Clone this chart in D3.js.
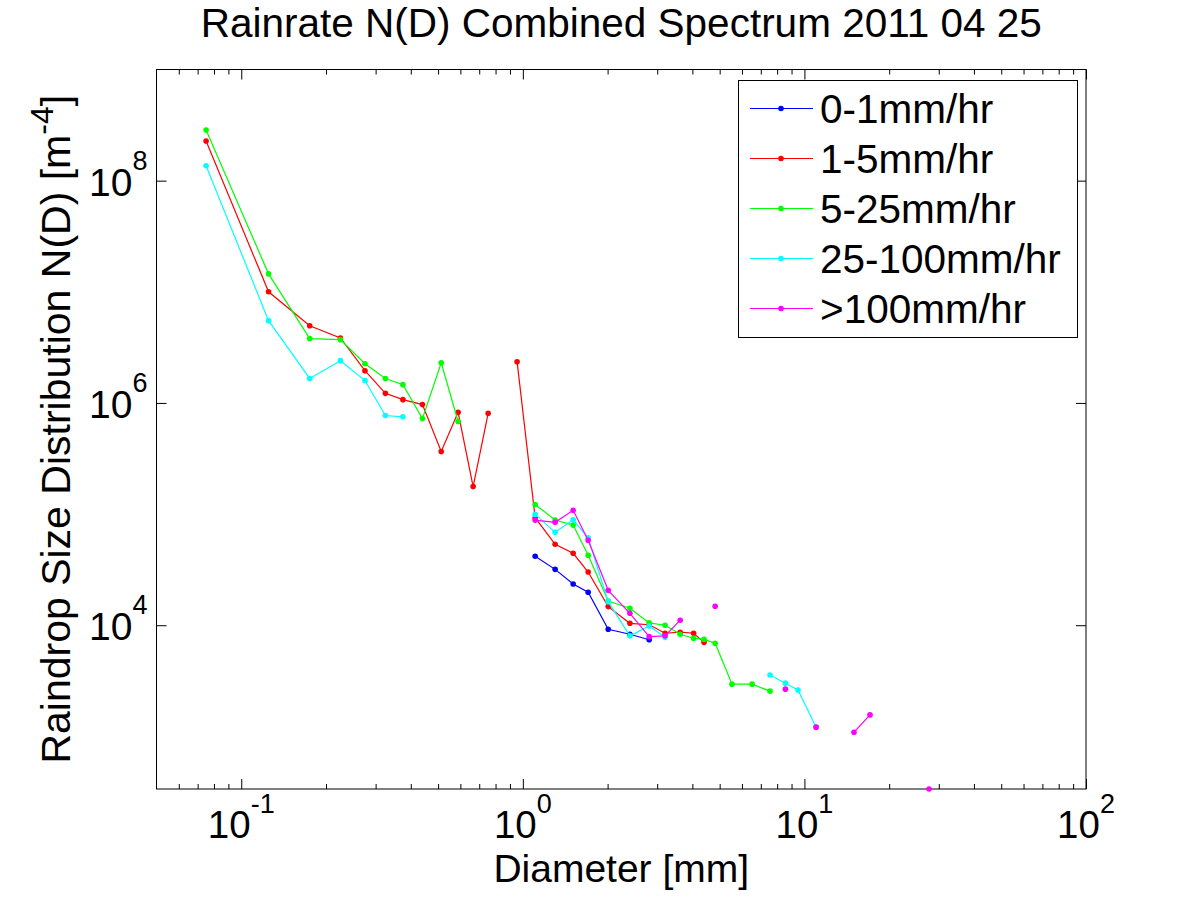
<!DOCTYPE html>
<html>
<head>
<meta charset="utf-8">
<script src="https://cdn.jsdelivr.net/npm/d3@7"></script>
<style>
  html, body { margin: 0; padding: 0; background: #fff; }
  svg { display: block; font-family: "Liberation Sans", Arial, Helvetica, sans-serif; }
</style>
</head>
<body>
<svg id="chart" width="1200" height="900"></svg>
<script>
// ---- data ----
const diameters = [0.075, 0.125, 0.175, 0.225, 0.275, 0.325, 0.375, 0.44, 0.513, 0.589, 0.666, 0.753, 0.85, 0.954,
                   1.106, 1.302, 1.509, 1.706, 2.01, 2.40, 2.81, 3.2, 3.62, 4.04, 4.40, 4.82,
                   5.53, 6.52, 7.55, 8.56, 9.49, 11.0, 13.0, 15.0, 17.1, 21.5, 27.7];
const _ = null;
const rate0to1 = [_, _, _, _, _, _, _, _, _, _, _, _, _, _,
                  41700, 31800, 23500, 19800, 9200, 8300, 7400, _, _, _, _, _,
                  _, _, _, _, _, _, _, _, _, _, _];
const rate1to5 = [2.27e8, 1.0e7, 4.95e6, 3.84e6, 1.95e6, 1.22e6, 1.07e6, 9.66e5, 3.66e5, 8.24e5, 1.77e5, 8.07e5, _, 2.35e6,
                  92700, 53500, 44400, 30100, 14700, 10400, 10100, 8470, 8650, 8470, 7010, _,
                  _, _, _, _, _, _, _, _, _, _, _];
const rate5to25 = [2.85e8, 1.45e7, 3.79e6, 3.71e6, 2.25e6, 1.66e6, 1.46e6, 7.23e5, 2.30e6, 6.81e5, _, _, _, _,
                   1.22e5, 88300, 79600, 42600, 16500, 14200, 10500, 10000, 8300, 7640, 7460, 6890,
                   2950, 2950, 2550, _, _, _, _, _, _, _, _];
const rate25to100 = [1.36e8, 5.5e6, 1.66e6, 2.4e6, 1.59e6, 7.7e5, 7.5e5, _, _, _, _, _, _, _,
                     99300, 68500, 88900, 61200, 16300, 8020, 9860, 7780, _, _, _, _,
                     _, _, 3560, 3010, 2610, 1210, _, _, _, _, _];
const rateOver100 = [_, _, _, _, _, _, _, _, _, _, _, _, _, _,
                     88300, 84200, 1.08e5, 58100, 20600, 12800, 7900, 8020, 11100, _, _, 14800,
                     _, _, _, 2660, _, 1210, _, 1090, 1560, _, 336];

const seriesNames = ["0-1mm/hr", "1-5mm/hr", "5-25mm/hr", "25-100mm/hr", ">100mm/hr"];
const seriesValues = [rate0to1, rate1to5, rate5to25, rate25to100, rateOver100];
const seriesColors = ["#0000ff", "#ff0000", "#00ff00", "#00ffff", "#ff00ff"];

const xDomain = [0.05, 100];
const yDomain = [336, 1e9];
const xMajorTicks = [0.1, 1, 10, 100];
const xTickExponents = ["-1", "0", "1", "2"];
const yMajorTicks = [1e4, 1e6, 1e8];
const yTickExponents = ["4", "6", "8"];

const titleText = "Rainrate N(D) Combined Spectrum 2011 04 25";
const xLabelText = "Diameter [mm]";
const yLabelMain = "Raindrop Size Distribution N(D) [m";
const yLabelSup = "-4";
const yLabelEnd = "]";

// ---- layout ----
const L = 156.5, T = 69.5, R = 1086, B = 789;
const svg = d3.select("#chart");

const x = d3.scaleLog().domain(xDomain).range([L, R]);
const y = d3.scaleLog().domain(yDomain).range([B, T]);

// minor x ticks
const xMinor = [];
for (let e = -2; e <= 1; e++) {
  for (let m = 2; m <= 9; m++) {
    const v = m * Math.pow(10, e);
    if (v > xDomain[0] && v < xDomain[1]) xMinor.push(v);
  }
}

const g = svg.append("g");

// axes box
g.append("rect").attr("x", L).attr("y", T).attr("width", R - L).attr("height", B - T)
  .attr("fill", "none").attr("stroke", "#000").attr("stroke-width", 1);

// axes with inward ticks
const axBottomMajor = d3.axisBottom(x).tickValues(xMajorTicks).tickSize(-10).tickFormat("");
const axBottomMinor = d3.axisBottom(x).tickValues(xMinor).tickSize(-5).tickFormat("");
const axTopMajor = d3.axisTop(x).tickValues(xMajorTicks).tickSize(-10).tickFormat("");
const axTopMinor = d3.axisTop(x).tickValues(xMinor).tickSize(-5).tickFormat("");
const axLeft = d3.axisLeft(y).tickValues(yMajorTicks).tickSize(-10).tickFormat("");
const axRight = d3.axisRight(y).tickValues(yMajorTicks).tickSize(-10).tickFormat("");

function styleAxis(sel) {
  sel.select(".domain").remove();
  sel.selectAll(".tick line").attr("stroke", "#000").attr("stroke-width", 1);
}
g.append("g").attr("transform", `translate(0,${B})`).call(axBottomMajor).call(styleAxis);
g.append("g").attr("transform", `translate(0,${B})`).call(axBottomMinor).call(styleAxis);
g.append("g").attr("transform", `translate(0,${T})`).call(axTopMajor).call(styleAxis);
g.append("g").attr("transform", `translate(0,${T})`).call(axTopMinor).call(styleAxis);
g.append("g").attr("transform", `translate(${L},0)`).call(axLeft).call(styleAxis);
g.append("g").attr("transform", `translate(${R},0)`).call(axRight).call(styleAxis);

// x tick labels
xMajorTicks.forEach((v, i) => {
  const t = g.append("text").attr("x", x(v)).attr("y", 838)
    .attr("text-anchor", "middle").attr("font-size", 38.5).attr("fill", "#000");
  t.append("tspan").text("10");
  t.append("tspan").attr("dy", -25).attr("font-size", 27).text(xTickExponents[i]);
});

// y tick labels
yMajorTicks.forEach((v, i) => {
  const t = g.append("text").attr("x", 147.5).attr("y", y(v) + 15)
    .attr("text-anchor", "end").attr("font-size", 39).attr("fill", "#000");
  t.append("tspan").text("10");
  t.append("tspan").attr("dy", -26).attr("font-size", 27).text(yTickExponents[i]);
});

// title
svg.append("text").attr("x", (L + R) / 2).attr("y", 37).attr("text-anchor", "middle")
  .attr("font-size", 40.5).attr("fill", "#000").text(titleText);

// x label
svg.append("text").attr("x", (L + R) / 2).attr("y", 882).attr("text-anchor", "middle")
  .attr("font-size", 39).attr("fill", "#000").text(xLabelText);

// y label
const yl = svg.append("text").attr("transform", `translate(70,${(T + B) / 2}) rotate(-90)`)
  .attr("text-anchor", "middle").attr("font-size", 41).attr("fill", "#000");
yl.append("tspan").text(yLabelMain);
yl.append("tspan").attr("dy", -17).attr("font-size", 32).text(yLabelSup);
yl.append("tspan").attr("dy", 17).text(yLabelEnd);

// series
const clipId = "plotclip";
svg.append("clipPath").attr("id", clipId).append("rect")
  .attr("x", L - 4).attr("y", T - 4).attr("width", R - L + 8).attr("height", B - T + 8);
const plot = svg.append("g").attr("clip-path", `url(#${clipId})`);

seriesValues.forEach((vals, si) => {
  const pts = diameters.map((d, i) => ({ d: d, v: vals[i] }));
  const line = d3.line()
    .defined(p => p.v !== null)
    .x(p => x(p.d)).y(p => y(p.v));
  plot.append("path").datum(pts).attr("d", line)
    .attr("fill", "none").attr("stroke", seriesColors[si]).attr("stroke-width", 1.2);
  plot.selectAll(null).data(pts.filter(p => p.v !== null)).enter().append("circle")
    .attr("cx", p => x(p.d)).attr("cy", p => y(p.v)).attr("r", 2.8)
    .attr("fill", seriesColors[si]);
});

// legend
const lg = svg.append("g");
lg.append("rect").attr("x", 738.5).attr("y", 80.5).attr("width", 339).attr("height", 257)
  .attr("fill", "#fff").attr("stroke", "#000").attr("stroke-width", 1);
seriesNames.forEach((name, i) => {
  const cy = 108.5 + i * 50;
  lg.append("line").attr("x1", 750).attr("x2", 813).attr("y1", cy).attr("y2", cy)
    .attr("stroke", seriesColors[i]).attr("stroke-width", 1.2);
  lg.append("circle").attr("cx", 781).attr("cy", cy).attr("r", 2.8).attr("fill", seriesColors[i]);
  lg.append("text").attr("x", 820).attr("y", cy + 14).attr("font-size", 40.5)
    .attr("fill", "#000").text(name);
});
</script>
</body>
</html>
